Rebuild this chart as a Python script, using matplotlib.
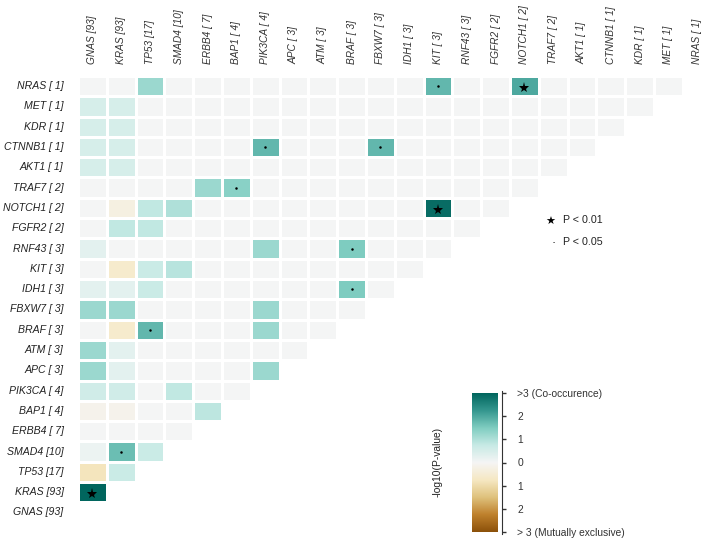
import numpy as np
import matplotlib
matplotlib.use("Agg")
import matplotlib.pyplot as plt
from matplotlib.colors import LinearSegmentedColormap

plt.rcParams['font.family'] = ['Liberation Sans', 'DejaVu Sans']

# genes in column order (left to right); rows run the reverse way (top to bottom)
genes = ['GNAS', 'KRAS', 'TP53', 'SMAD4', 'ERBB4', 'BAP1', 'PIK3CA', 'APC', 'ATM',
         'BRAF', 'FBXW7', 'IDH1', 'KIT', 'RNF43', 'FGFR2', 'NOTCH1', 'TRAF7', 'AKT1',
         'CTNNB1', 'KDR', 'MET', 'NRAS']
counts = [93, 93, 17, 10, 7, 4, 4, 3, 3, 3, 3, 3, 3, 3, 2, 2, 2, 1, 1, 1, 1, 1]

# signed -log10(P): + co-occurence, - mutually exclusive (only non-zero pairs listed)
pair_row = ['NRAS', 'NRAS', 'NRAS', 'MET', 'MET', 'KDR', 'KDR',
            'CTNNB1', 'CTNNB1', 'CTNNB1', 'CTNNB1', 'AKT1', 'AKT1',
            'TRAF7', 'TRAF7', 'NOTCH1', 'NOTCH1', 'NOTCH1', 'NOTCH1',
            'FGFR2', 'FGFR2', 'RNF43', 'RNF43', 'RNF43',
            'KIT', 'KIT', 'KIT', 'IDH1', 'IDH1', 'IDH1', 'IDH1',
            'FBXW7', 'FBXW7', 'FBXW7', 'BRAF', 'BRAF', 'BRAF',
            'ATM', 'ATM', 'APC', 'APC', 'APC', 'PIK3CA', 'PIK3CA', 'PIK3CA',
            'BAP1', 'BAP1', 'BAP1', 'SMAD4', 'SMAD4', 'SMAD4', 'TP53', 'TP53', 'KRAS']
pair_col = ['TP53', 'KIT', 'NOTCH1', 'GNAS', 'KRAS', 'GNAS', 'KRAS',
            'GNAS', 'KRAS', 'PIK3CA', 'FBXW7', 'GNAS', 'KRAS',
            'ERBB4', 'BAP1', 'KRAS', 'TP53', 'SMAD4', 'KIT',
            'KRAS', 'TP53', 'GNAS', 'PIK3CA', 'BRAF',
            'KRAS', 'TP53', 'SMAD4', 'GNAS', 'KRAS', 'TP53', 'BRAF',
            'GNAS', 'KRAS', 'PIK3CA', 'KRAS', 'TP53', 'PIK3CA',
            'GNAS', 'KRAS', 'GNAS', 'KRAS', 'PIK3CA', 'GNAS', 'KRAS', 'SMAD4',
            'GNAS', 'KRAS', 'ERBB4', 'GNAS', 'KRAS', 'TP53', 'GNAS', 'KRAS', 'GNAS']
pair_val = [1.2, 1.8, 2.0, 0.5, 0.5, 0.5, 0.5,
            0.5, 0.5, 1.8, 1.8, 0.5, 0.5,
            1.2, 1.4, -0.3, 0.8, 1.0, 2.9,
            0.8, 0.8, 0.3, 1.2, 1.5,
            -0.6, 0.7, 0.9, 0.3, 0.3, 0.7, 1.5,
            1.2, 1.2, 1.2, -0.6, 1.8, 1.2,
            1.2, 0.3, 1.2, 0.3, 1.2, 0.6, 0.6, 0.8,
            -0.15, -0.15, 0.85, 0.15, 1.7, 0.7, -0.8, 0.7, 3.0]
# significance marks: '*' P < 0.01, '.' P < 0.05
sig_row = ['NRAS', 'NOTCH1', 'KRAS', 'NRAS', 'CTNNB1', 'CTNNB1', 'TRAF7',
           'RNF43', 'IDH1', 'BRAF', 'SMAD4']
sig_col = ['NOTCH1', 'KIT', 'GNAS', 'KIT', 'PIK3CA', 'FBXW7', 'BAP1',
           'BRAF', 'BRAF', 'TP53', 'KRAS']
sig_mark = ['*', '*', '*', '.', '.', '.', '.', '.', '.', '.', '.']

cbar_ticklabels = ['> 3 (Mutually exclusive)', '2', '1', '0', '1', '2', '>3 (Co-occurence)']

brbg = ['#8C510A', '#BF812D', '#DFC27D', '#F6E8C3', '#F5F5F5',
        '#C7EAE5', '#80CDC1', '#35978F', '#01665E']
cmap = LinearSegmentedColormap.from_list('brbg9', brbg)

W, H = 709, 548
fig = plt.figure(figsize=(W / 100, H / 100), dpi=100)


def fx(px):
    return px / W


def fy(py):
    return 1 - py / H


n = len(genes)
idx = {g: i for i, g in enumerate(genes)}
rows = genes[::-1]
ridx = {g: i for i, g in enumerate(rows)}

# matrix: row r (top = NRAS), column c; lower triangle only
mat = np.full((n, n), np.nan)
for r, g in enumerate(rows):
    for c in range(idx[g]):
        mat[r, c] = 0.0
for a, b, v in zip(pair_row, pair_col, pair_val):
    mat[ridx[a], idx[b]] = v

cell_w, cell_h = 28.8, 20.3
x0, y0 = 78, 76
ax = fig.add_axes([fx(x0), fy(y0 + cell_h * n), fx(cell_w * n), (cell_h * n) / H])
ax.pcolormesh(np.arange(n + 1), np.arange(n + 1), np.ma.masked_invalid(mat),
              cmap=cmap, vmin=-3, vmax=3, edgecolors='white', linewidth=0.75)
ax.set_xlim(0, n)
ax.set_ylim(n, 0)
ax.axis('off')

for a, b, m in zip(sig_row, sig_col, sig_mark):
    if m == '*':
        ax.plot(idx[b] + 0.5, ridx[a] + 0.6, marker='*', color='black',
                markersize=8, markeredgewidth=0)
    else:
        ax.plot(idx[b] + 0.5, ridx[a] + 0.5, marker='o', color='black',
                markersize=1.8, markeredgewidth=0)

labels = ['%s [%2d]' % (g, k) for g, k in zip(genes, counts)]
for c, lab in enumerate(labels):
    ax.text(c + 0.5, -0.6, lab, rotation=90, ha='center', va='bottom',
            fontsize=7.3, style='italic', color='#333333', clip_on=False)
for r, g in enumerate(rows):
    ax.text(-0.5, r + 0.5, labels[idx[g]], ha='right', va='center',
            fontsize=7.6, style='italic', color='#222222', clip_on=False)

# significance legend
fig.text(fx(550), fy(222), '\u2605', fontsize=8, ha='center', va='center',
         family=['DejaVu Sans'])
fig.text(fx(554), fy(243), '\u00b7', fontsize=9, ha='center', va='center')
fig.text(fx(563), fy(220), 'P < 0.01', fontsize=7.7, ha='left', va='center', color='#222222')
fig.text(fx(563), fy(242), 'P < 0.05', fontsize=7.7, ha='left', va='center', color='#222222')

# colour bar
cb_top, cb_bot = 393, 532
cax = fig.add_axes([fx(472), fy(cb_bot), fx(498 - 472), (cb_bot - cb_top) / H])
grad = np.linspace(-3, 3, 256).reshape(-1, 1)
cax.imshow(grad, cmap=cmap, vmin=-3, vmax=3, aspect='auto', origin='lower',
           extent=[0, 1, -3, 3])
cax.axis('off')

bax = fig.add_axes([fx(496), fy(cb_bot + 2), fx(6), (cb_bot - cb_top + 4) / H])
bax.set_ylim(-3.1, 3.1)
for s in ['left', 'top', 'bottom']:
    bax.spines[s].set_visible(False)
bax.spines['right'].set_color('#333333')
bax.spines['right'].set_bounds(-3.1, 3.1)
bax.set_xticks([])
bax.yaxis.tick_right()
bax.set_yticks(np.arange(-3, 4))
bax.set_yticklabels(cbar_ticklabels)
bax.tick_params(axis='y', direction='out', length=3, width=1, colors='#333333',
                labelsize=7.4, pad=8)
bax.patch.set_alpha(0)

fig.text(fx(438), fy(462), '-log10(P-value)', rotation=90, fontsize=7.4,
         ha='center', va='center', color='#222222')

fig.savefig('out.png', dpi=100)
